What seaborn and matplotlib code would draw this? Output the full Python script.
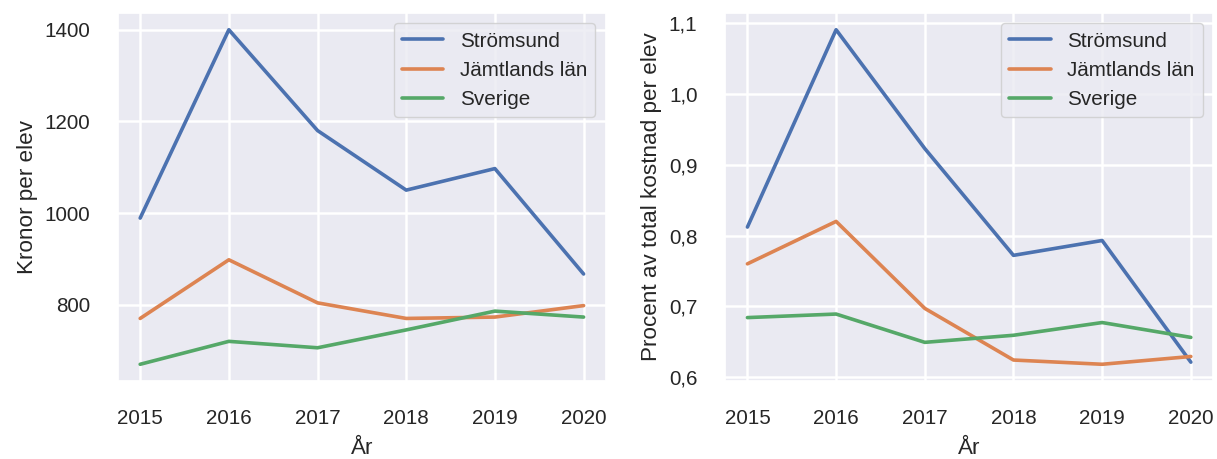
import pandas as pd
import matplotlib
matplotlib.use("Agg")
import matplotlib.pyplot as plt
import matplotlib.ticker as mticker
import seaborn as sns

sns.set_theme(style="darkgrid", font_scale=1.35, rc={"grid.linewidth": 1.8})
plt.rcParams['font.family'] = ['Liberation Sans', 'DejaVu Sans']

years = [2015, 2016, 2017, 2018, 2019, 2020]
regions = ["Strömsund", "Jämtlands län", "Sverige"]

# kronor per elev
kr_stromsund = [989, 1400, 1180, 1050, 1097, 867]
kr_jamtland = [770, 898, 804, 770, 773, 798]
kr_sverige = [670, 720, 706, 745, 786, 773]

# procent av total kostnad per elev
pct_stromsund = [0.812, 1.091, 0.923, 0.772, 0.793, 0.621]
pct_jamtland = [0.760, 0.820, 0.697, 0.624, 0.618, 0.629]
pct_sverige = [0.684, 0.689, 0.649, 0.659, 0.677, 0.656]


def long_df(values):
    rows = []
    for name, vals in zip(regions, values):
        for y, v in zip(years, vals):
            rows.append({"År": y, "Område": name, "v": v})
    return pd.DataFrame(rows)


df_kr = long_df([kr_stromsund, kr_jamtland, kr_sverige])
df_pct = long_df([pct_stromsund, pct_jamtland, pct_sverige])

fig, axes = plt.subplots(1, 2, figsize=(12.17, 4.59), dpi=100)
fig.subplots_adjust(left=118 / 1217, right=1213 / 1217, bottom=1 - 381 / 459,
                    top=1 - 13 / 459, wspace=0.245)

for ax, df, ylab in [(axes[0], df_kr, "Kronor per elev"),
                     (axes[1], df_pct, "Procent av total kostnad per elev")]:
    sns.lineplot(data=df, x="År", y="v", hue="Område", ax=ax, linewidth=2.6)
    ax.set_ylabel(ylab, labelpad=5)
    ax.set_xlabel("År", labelpad=7)
    ax.set_xticks(years)
    ax.tick_params(axis="both", pad=14)
    ax.legend(loc="upper right", title=None)

axes[0].set_yticks([800, 1000, 1200, 1400])
axes[1].set_yticks([0.6, 0.7, 0.8, 0.9, 1.0, 1.1])
axes[1].yaxis.set_major_formatter(
    mticker.FuncFormatter(lambda v, p: f"{v:.1f}".replace(".", ",")))

plt.savefig("out.png", dpi=100)
